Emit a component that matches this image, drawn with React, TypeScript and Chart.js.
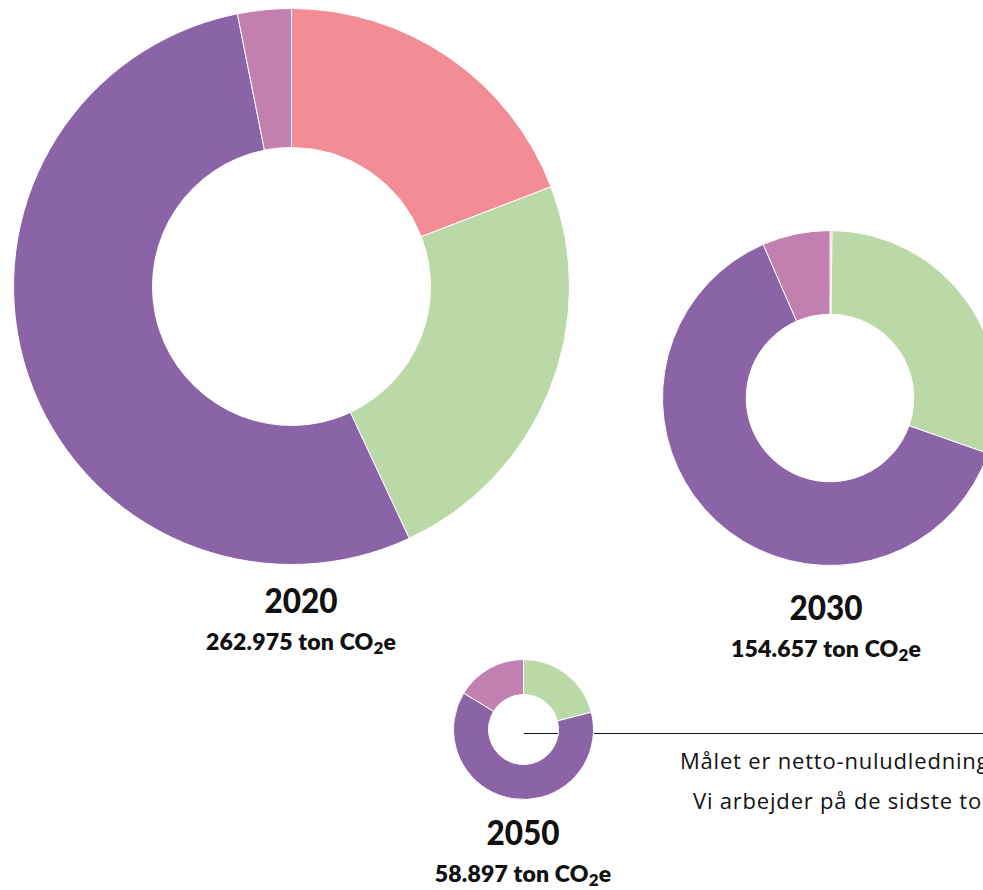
import React, { useEffect, useRef } from "react";
import { Chart, registerables } from "chart.js";

Chart.register(...registerables);

// ---- data ----
const segmentLabels = ["Segment A", "Segment B", "Segment C", "Segment D"];
const segmentColors = ["#F28D96", "#BBD8A7", "#8B64A7", "#C280B0"];
const years = ["2020", "2030", "2050"];
const totals = ["262.975", "154.657", "58.897"];
const values2020 = [50.4, 62.8, 141.6, 8.2];
const values2030 = [0.3, 46.7, 97.6, 10.1];
const values2050 = [0, 12.4, 36.9, 9.6];
const noteLines = ["Målet er netto-nuludledning i 2050.", "Vi arbejder på de sidste ton"];

type DonutProps = { values: number[]; left: number; top: number; size: number };

function Donut({ values, left, top, size }: DonutProps) {
  const ref = useRef<HTMLCanvasElement | null>(null);
  useEffect(() => {
    if (!ref.current) return;
    const chart = new Chart(ref.current, {
      type: "doughnut",
      data: {
        labels: segmentLabels,
        datasets: [
          {
            data: values,
            backgroundColor: segmentColors,
            borderColor: "#ffffff",
            borderWidth: 1,
          },
        ],
      },
      options: {
        responsive: false,
        maintainAspectRatio: false,
        animation: false,
        cutout: "50%",
        layout: { padding: 0 },
        plugins: { legend: { display: false }, tooltip: { enabled: false } },
      },
    });
    return () => chart.destroy();
  }, [values]);
  return (
    <canvas
      ref={ref}
      width={size}
      height={size}
      style={{ position: "absolute", left, top, width: size, height: size }}
    />
  );
}

const FONT = "Lato, 'Open Sans', sans-serif";

function Label({ cx, baseline, size, weight, scaleX = 1, spacing = 0, children }: any) {
  const top = baseline - 0.887 * size;
  return (
    <div
      style={{
        position: "absolute",
        left: cx,
        top,
        transform: `translateX(-50%) scaleX(${scaleX})`,
        fontFamily: FONT,
        fontSize: size,
        fontWeight: weight,
        letterSpacing: spacing,
        lineHeight: `${size}px`,
        whiteSpace: "nowrap",
        color: "#111",
      }}
    >
      {children}
    </div>
  );
}

function Total({ cx, baseline, value }: { cx: number; baseline: number; value: string }) {
  return (
    <Label cx={cx} baseline={baseline} size={23} weight={800} spacing={0.2}>
      {value} ton CO
      <span style={{ fontSize: 17, position: "relative", top: 4 }}>2</span>e
    </Label>
  );
}

export default function App() {
  return (
    <div
      style={{
        position: "fixed",
        left: 0,
        top: 0,
        width: 983,
        height: 890,
        overflow: "hidden",
        background: "#fff",
      }}
    >
      <div
        style={{
          position: "absolute",
          left: 524,
          top: 733,
          width: 470,
          height: 1,
          background: "#111",
        }}
      />
      <Donut values={values2020} left={13} top={8} size={557} />
      <Donut values={values2030} left={662} top={230} size={336} />
      <Donut values={values2050} left={453} top={659} size={141} />

      <Label cx={301} baseline={613} size={35} weight={900} scaleX={0.9}>{years[0]}</Label>
      <Total cx={301} baseline={650} value={totals[0]} />
      <Label cx={826} baseline={620} size={35} weight={900} scaleX={0.9}>{years[1]}</Label>
      <Total cx={826} baseline={657} value={totals[1]} />
      <Label cx={523} baseline={845} size={35} weight={900} scaleX={0.9}>{years[2]}</Label>
      <Total cx={523} baseline={882} value={totals[2]} />

      {noteLines.map((t, i) => (
        <div
          key={i}
          style={{
            position: "absolute",
            left: i === 0 ? 680 : 693,
            top: (i === 0 ? 770 : 810) - 1.07 * 22,
            fontFamily: "'Open Sans', Lato, sans-serif",
            fontSize: 22,
            letterSpacing: 0.8,
            lineHeight: "29px",
            whiteSpace: "nowrap",
            color: "#111",
          }}
        >
          {t}
        </div>
      ))}
    </div>
  );
}
